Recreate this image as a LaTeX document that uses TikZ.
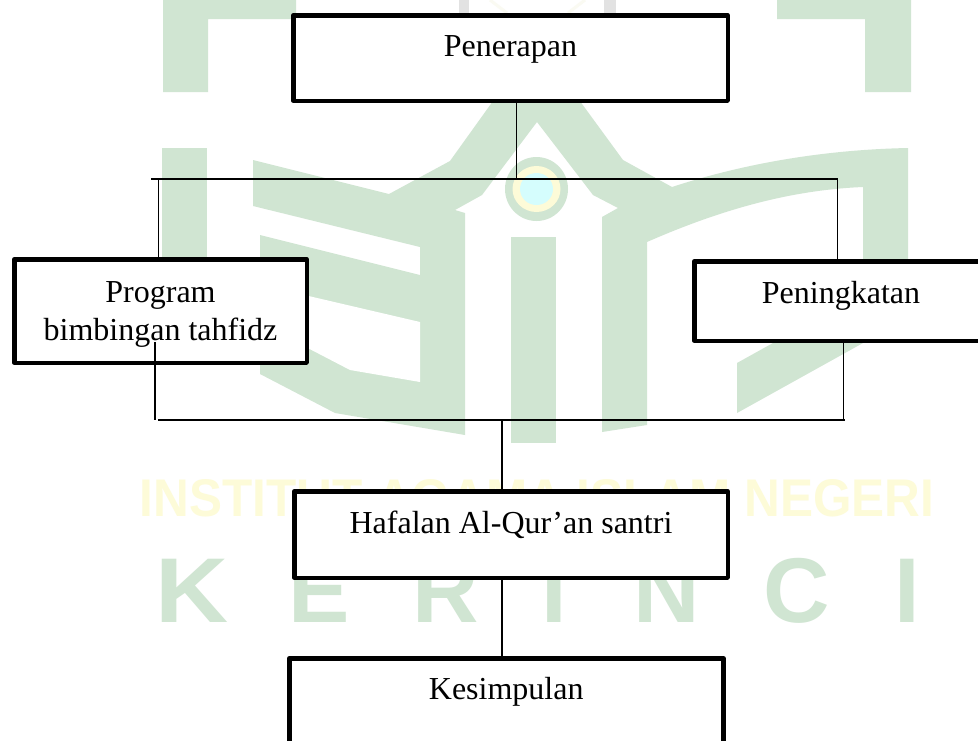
\documentclass[tikz,border=0pt]{standalone}
\usepackage{fontspec}
\usepackage{graphicx}
\setmainfont[Ligatures=NoCommon]{Liberation Serif}
\newfontfamily\wmfont{Liberation Sans}
\definecolor{wmgreen}{HTML}{D0E5D2}
\definecolor{wmyellow}{HTML}{FDFBD8}
\definecolor{wmcyan}{HTML}{D5FDFD}
\definecolor{wmgrey}{HTML}{E2E2E2}
\definecolor{wmfaint}{HTML}{FAFAF2}
\tikzset{
  flowbox/.style={draw=black,fill=white,line width=4.5pt,line join=round,inner sep=0pt,outer sep=0pt,
    align=center,font=\fontsize{32}{38}\selectfont,text=black},
  link/.style={draw=black,line width=1.6pt},
  bar/.style={draw=black,line width=2pt},
  wmshape/.style={fill=wmgreen,draw=none},
  wmletter/.style={text=wmgreen,inner sep=0pt,anchor=base,font=\wmfont\bfseries\fontsize{92}{92}\selectfont},
}
\begin{document}
\begin{tikzpicture}[x=1pt,y=-1pt]
\useasboundingbox (0,0) rectangle (978,740);
\clip (0,0) rectangle (978,740);
\fill[white] (0,0) rectangle (978,740);
% watermark
\fill[wmshape] (163,0) -- (296,0) -- (296,19) -- (208,19) -- (208,92) -- (163,92) -- cycle;
\fill[wmshape] (777,0) -- (911,0) -- (911,92) -- (865,92) -- (865,19) -- (777,19) -- cycle;
\fill[wmgrey] (459,0) rectangle (469,13);
\fill[wmgrey] (604,0) rectangle (616,13);
\draw[wmfaint,line width=3pt] (490,0) -- (507,13) (585,0) -- (568,13);
\fill[wmshape] (253,160) -- (389,194) -- (450,161) -- (536,41) -- (623,160) -- (672,187)
  .. controls (730,168) and (810,150) .. (908,148)
  -- (908,318) -- (737,413) -- (737,363) -- (863,293) -- (863,187)
  .. controls (790,190) and (720,210) .. (647,242)
  -- (647,425) -- (602,432) -- (602,217) -- (618,208) -- (593,195) -- (537,122)
  -- (482,195) -- (455,210) -- (465,213) -- (465,435) -- (335,413) -- (260,374)
  -- (260,235) -- (420,275) -- (420,247) -- (253,206) -- cycle;
\fill[white] (420,322) -- (420,382) -- (350,370) -- (300,344) -- (300,294) -- cycle;
\fill[wmshape] (162,148) rectangle (207,300);
\fill[wmshape] (511,237) rectangle (556,443);
\fill[wmgreen] (536.5,189) ellipse [x radius=31.5,y radius=32];
\fill[wmyellow] (536.5,189) ellipse [x radius=24,y radius=23];
\fill[wmcyan] (536.5,189) ellipse [x radius=16.5,y radius=16];
\node[inner sep=0pt,text=wmyellow,anchor=center] (wmtitle) at (537,498.5)
  {\resizebox{794pt}{37pt}{\wmfont\bfseries INSTITUT AGAMA ISLAM NEGERI}};
\node[wmletter] (wmK) at (192,622) {\scalebox{1.1}[1]{K}};
\node[wmletter] (wmE) at (319,622) {E};
\node[wmletter] (wmR) at (446,622) {R};
\node[wmletter] (wmIa) at (554.5,622) {I};
\node[wmletter] (wmN) at (667,622) {N};
\node[wmletter] (wmC) at (797,622) {C};
\node[wmletter] (wmIb) at (907,622) {I};
% boxes
\node[flowbox,minimum width=434.5pt,minimum height=85.5pt,text height=40.75pt,text depth=44.75pt] (penerapan) at (510.5,58) {Penerapan};
\node[flowbox,minimum width=292.5pt,minimum height=103.5pt,text height=80.75pt,text depth=22.75pt] (program) at (160.5,311) {Program\\bimbingan tahfidz};
\node[flowbox,minimum width=293.5pt,minimum height=79.5pt,text height=41.75pt,text depth=37.75pt] (peningkatan) at (841,301) {Peningkatan};
\node[flowbox,minimum width=433.5pt,minimum height=86.5pt,text height=41.75pt,text depth=44.75pt] (hafalan) at (511,534.5) {Hafalan Al-Qur’an santri};
\node[flowbox,minimum width=434pt,minimum height=90pt,text height=40.75pt,text depth=49.25pt] (kesimpulan) at (506.25,703.25) {Kesimpulan};
% junctions
\coordinate (topjoin) at (516.5,180);
\coordinate (topleftend) at (151,179);
\coordinate (toprightend) at (837.5,179);
\coordinate (topleftdrop) at (158.5,179);
\coordinate (lowleftrise) at (155,342);
\coordinate (lowleftcorner) at (155,420);
\coordinate (lowhbarstart) at (158,419.5);
\coordinate (lowhbarend) at (845,419.5);
\coordinate (lowrightcorner) at (843.5,419.5);
\coordinate (lowjoin) at (502,419.5);
% connectors
\draw[link] (penerapan.south -| topjoin) -- (topjoin);
\draw[bar] (topleftend) -- (toprightend);
\draw[link] (topleftdrop) -- (program.north -| topleftdrop);
\draw[link] (toprightend) -- (peningkatan.north -| toprightend);
\draw[link] (lowleftrise) -- (lowleftcorner);
\draw[link] (peningkatan.south -| lowrightcorner) -- (lowrightcorner);
\draw[bar] (lowhbarstart) -- (lowhbarend);
\draw[link] (lowjoin) -- (hafalan.north -| lowjoin);
\draw[link] (hafalan.south -| lowjoin) -- (kesimpulan.north -| lowjoin);
\end{tikzpicture}
\end{document}
